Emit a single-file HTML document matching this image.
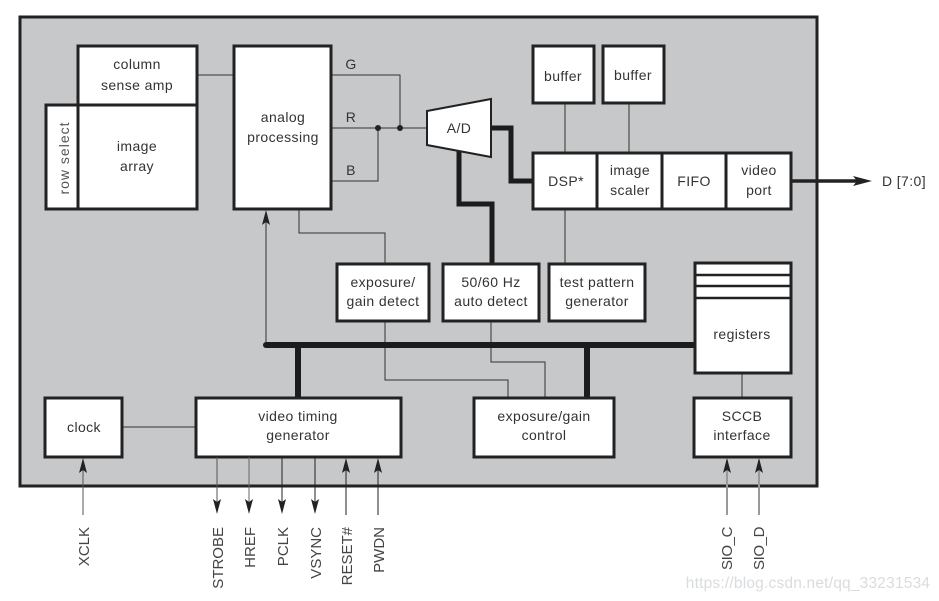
<!DOCTYPE html>
<html><head><meta charset="utf-8"><style>
html,body{margin:0;padding:0;background:#fff;width:939px;height:601px;overflow:hidden}
svg{display:block}
text{font-family:"Liberation Sans",sans-serif;font-size:14px;fill:#333;text-anchor:middle;letter-spacing:.4px}
.b{fill:#fff;stroke:#222;stroke-width:3}
.l{fill:none;stroke:#333;stroke-width:1}
.t{fill:none;stroke:#1c1c1c;stroke-width:5}
.v{font-size:15px;fill:#444;letter-spacing:0;text-anchor:end}
</style></head><body>
<svg width="939" height="601" viewBox="0 0 939 601" xmlns="http://www.w3.org/2000/svg">
<rect x="20" y="17" width="797" height="469" fill="#c6c8ca" stroke="#222" stroke-width="3"/>

<!-- thin connectors -->
<path class="l" d="M197 75H234M331 75H400V128M331 128H427M331 181H378V128"/>
<path class="l" d="M565 103V153M629 103V153M565 209V264"/>
<path class="l" d="M299 209V233H385V264M385 321V380H508V397M491 321V362H545V397"/>
<path class="l" d="M742 373V397M122 427H196"/>
<path class="l" d="M266 345V212"/>
<circle cx="378" cy="128" r="3" fill="#222"/><circle cx="400" cy="128" r="3" fill="#222"/>

<!-- thick buses -->
<path class="t" d="M491 128H511V181H533"/>
<path class="t" d="M459 150V204H492V264"/>
<path d="M266 345H695" stroke="#1c1c1c" stroke-width="6" stroke-linecap="round" fill="none"/>
<path d="M298 345V398M587 345V398" stroke="#1c1c1c" stroke-width="6" fill="none"/>
<path d="M791 181H860" stroke="#222" stroke-width="3.500" fill="none"/>
<path d="M872 181L853 176L857 181L853 186Z" fill="#222"/>

<!-- blocks -->
<rect class="b" x="78" y="46" width="119" height="60"/>
<rect class="b" x="46" y="105" width="32" height="104"/>
<rect class="b" x="78" y="105" width="119" height="104"/>
<rect class="b" x="234" y="46" width="97" height="163"/>
<polygon points="427,111 491,99 491,157 427,145" fill="#fff" stroke="#222" stroke-width="2"/>
<rect class="b" x="533" y="46" width="61" height="57"/>
<rect class="b" x="603" y="46" width="61" height="57"/>
<rect class="b" x="533" y="153" width="258" height="56"/>
<path d="M597 153V209M662 153V209M726 153V209" stroke="#222" stroke-width="3"/>
<rect class="b" x="337" y="264" width="92" height="57"/>
<rect class="b" x="443" y="264" width="96" height="57"/>
<rect class="b" x="549" y="264" width="96" height="57"/>
<rect class="b" x="695" y="263" width="96" height="110"/>
<path d="M695 275H791M695 286H791M695 298H791" stroke="#222" stroke-width="2.500"/>
<rect class="b" x="45" y="398" width="77" height="59"/>
<rect class="b" x="196" y="398" width="205" height="59"/>
<rect class="b" x="474" y="398" width="140" height="59"/>
<rect class="b" x="694" y="398" width="97" height="59"/>

<!-- external arrows -->
<g fill="none" stroke-width="1">
<path d="M83 515V460" stroke="#555"/>
<path d="M217 457V512" stroke="#555"/>
<path d="M249 457V512" stroke="#666"/>
<path d="M282 457V512" stroke="#222"/>
<path d="M315 457V512" stroke="#222"/>
<path d="M346 515V460" stroke="#222"/>
<path d="M378 515V460" stroke="#222"/>
<path d="M727 515V460" stroke="#999" stroke-width="2"/>
<path d="M759 515V460" stroke="#999" stroke-width="2"/>
</g>
<g fill="#222">
<path d="M83 458l-4 15 4-3 4 3z"/>
<path d="M346 458l-4 15 4-3 4 3z"/>
<path d="M378 458l-4 15 4-3 4 3z"/>
<path d="M727 458l-4 15 4-3 4 3z"/>
<path d="M759 458l-4 15 4-3 4 3z"/>
<path d="M266 210l-4 15 4-3 4 3z"/>
<path d="M217 514l-4-15 4 3 4-3z"/>
<path d="M249 514l-4-15 4 3 4-3z"/>
<path d="M282 514l-4-15 4 3 4-3z"/>
<path d="M315 514l-4-15 4 3 4-3z"/>
</g>

<!-- labels -->
<text x="137" y="69">column</text><text x="137" y="90">sense amp</text>
<text x="137" y="151">image</text><text x="137" y="171">array</text>
<text transform="translate(69 158) rotate(-90)" style="fill:#555;letter-spacing:1px">row select</text>
<text x="283" y="122">analog</text><text x="283" y="142">processing</text>
<text x="351" y="69">G</text><text x="351" y="122">R</text><text x="351" y="175">B</text>
<text x="459" y="133">A/D</text>
<text x="563" y="81">buffer</text><text x="633" y="80">buffer</text>
<text x="566" y="186">DSP*</text>
<text x="630" y="175">image</text><text x="630" y="195">scaler</text>
<text x="694" y="186">FIFO</text>
<text x="759" y="175">video</text><text x="759" y="195">port</text>
<text x="904" y="186">D [7:0]</text>
<text x="383" y="287">exposure/</text><text x="383" y="306">gain detect</text>
<text x="491" y="287">50/60 Hz</text><text x="491" y="306">auto detect</text>
<text x="597" y="287">test pattern</text><text x="597" y="306">generator</text>
<text x="742" y="339">registers</text>
<text x="84" y="432">clock</text>
<text x="298" y="421">video timing</text><text x="298" y="440">generator</text>
<text x="544" y="421">exposure/gain</text><text x="544" y="440">control</text>
<text x="742" y="421">SCCB</text><text x="742" y="440">interface</text>

<text class="v" transform="translate(89 527) rotate(-90)">XCLK</text>
<text class="v" transform="translate(223 527) rotate(-90)">STROBE</text>
<text class="v" transform="translate(255 527) rotate(-90)">HREF</text>
<text class="v" transform="translate(288 527) rotate(-90)">PCLK</text>
<text class="v" transform="translate(321 527) rotate(-90)">VSYNC</text>
<text class="v" transform="translate(352 527) rotate(-90)">RESET#</text>
<text class="v" transform="translate(384 527) rotate(-90)">PWDN</text>
<text class="v" transform="translate(732 527) rotate(-90)" style="letter-spacing:-.4px">SIO_C</text>
<text class="v" transform="translate(764 527) rotate(-90)" style="letter-spacing:-.4px">SIO_D</text>

<text x="808" y="588" style="font-size:15.500px;fill:#d9dcdf;letter-spacing:.2px">https://blog.csdn.net/qq_33231534</text>
</svg>
</body></html>
